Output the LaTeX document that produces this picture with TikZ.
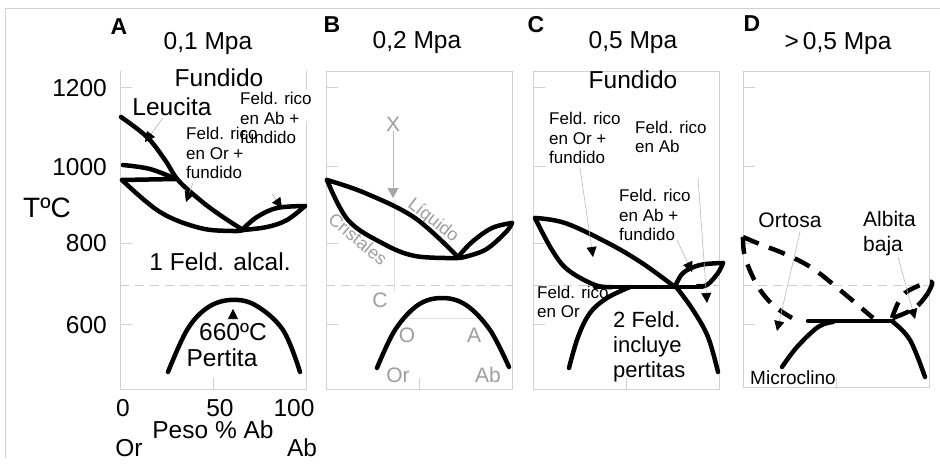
\documentclass[tikz,border=0pt]{standalone}
\usepackage{fontspec}
\setmainfont{Liberation Sans}
\usetikzlibrary{arrows.meta}
\tikzset{
  curve/.style={line width=4.5pt, line cap=round, line join=round},
  dcurve/.style={line width=4.5pt, line join=round, dash pattern=on 17pt off 11pt},
  frame/.style={draw=gray!35, line width=0.8pt},
  tickln/.style={draw=gray!35, line width=0.8pt},
  dashln/.style={draw=gray!40, line width=0.8pt, dash pattern=on 9pt off 6pt},
  lead/.style={draw=gray!55, line width=0.6pt, -{Triangle[length=10pt,width=10pt,color=black]}},
  glead/.style={draw=gray!55, line width=0.6pt, -{Triangle[length=10pt,width=11pt,color=gray!70]}},
  faint/.style={draw=gray!25, line width=0.6pt},
  txtL/.style={font=\fontsize{24.5}{27}\selectfont, inner sep=0pt},
  txtT/.style={font=\fontsize{28}{30}\selectfont, inner sep=0pt},
  txtM/.style={font=\fontsize{21}{25}\selectfont, inner sep=0pt, align=left},
  txtS/.style={font=\fontsize{17}{19.5}\selectfont, inner sep=0pt, align=left},
  txtG/.style={font=\fontsize{21}{24}\selectfont, inner sep=0pt, text=gray!75},
  txtGs/.style={font=\fontsize{18}{20}\selectfont, inner sep=0pt, text=gray!75},
  panl/.style={font=\fontsize{23}{25}\selectfont\bfseries, inner sep=0pt}
}
\begin{document}
\begin{tikzpicture}[x=1pt,y=-1pt]
\useasboundingbox (0,0) rectangle (940,468);
\fill[white] (0,0) rectangle (940,468);
% outer frame
\draw[frame] (5,458) -- (5,8) -- (940,8);

% ---------- panel frames, ticks, dashed lines
\foreach \xl/\xr in {120/306, 326/512, 533/719, 743/929}{
  \draw[tickln] (\xl,87) -- ++(12,0);
  \draw[tickln] (\xl,166) -- ++(12,0);
  \draw[tickln] (\xl,243) -- ++(12,0);
  \draw[tickln] (\xl,324) -- ++(12,0);
  \draw[dashln] (\xl,285) -- (\xr,285);
  \draw[tickln] ({(\xl+\xr)/2},389) -- ++(0,-11);
}
\draw[frame] (120,71) -- (120,389) -- (306,389) -- (306,121);
\draw[frame] (306,71) -- (306,90);
\draw[frame] (326,71) rectangle (512,389);
\draw[frame] (533,71) rectangle (719,389);
\draw[frame] (743,71) rectangle (929,387);

% ---------- axis labels (panel A)
\node[txtL, anchor=east] (t1200) at (107,88) {1200};
\node[txtL, anchor=east] (t1000) at (107,167) {1000};
\node[txtL, anchor=east] (t800) at (107,243) {800};
\node[txtL, anchor=east] (t600) at (107,325) {600};
\node[txtT] (tc) at (47,208) {TºC};
\node[txtL] (x0) at (123,408) {0};
\node[txtL] (x50) at (220,408) {50};
\node[txtL] (x100) at (294,408) {100};
\node[txtL] (peso) at (213,430) {Peso \% Ab};
\node[txtL] (orA) at (129,448) {Or};
\node[txtL] (abA) at (302,448) {Ab};

% ---------- panel A
\node[panl] (pA) at (119,27) {A};
\node[txtL] (tA) at (208,43) {0,1 Mpa};
\node[txtL] (fA) at (219,78) {Fundido};
\node[txtL] (leu) at (172,107) {Leucita};
\node[txtS, anchor=west] (abfA) at (240,118) {Feld. rico\\en Ab +\\fundido};
\node[txtS, anchor=west] (orfA) at (186,153) {Feld. rico\\en Or +\\fundido};
\node[txtL] (alc) at (220,262) {1 Feld. alcal.};
\node[txtL] (t660) at (233,332) {660ºC};
\node[txtL] (pert) at (222,358) {Pertita};

\draw[curve] plot[smooth, tension=0.6] coordinates {(121,117) (147,137) (165,160) (178,180) (200,200) (220,215) (243,230)};
\draw[curve] plot[smooth, tension=0.6] coordinates {(123,165) (150,169) (176,179)};
\draw[curve] (122,180) -- (176,179);
\draw[curve] plot[smooth, tension=0.6] coordinates {(122,180) (160,212) (200,228) (233,231) (243,230)};
\draw[curve] plot[smooth, tension=0.6] coordinates {(243,229) (257,217) (277,208) (305,206)};
\draw[curve] plot[smooth, tension=0.6] coordinates {(243,230) (267,227) (287,220) (305,206)};
\draw[curve] plot[smooth, tension=0.6] coordinates {(168,372) (187,330) (207,308) (230,300) (255,305) (283,330) (300,372)};

\coordinate (lA1) at (163,118); \coordinate (lA1e) at (145,142);
\draw[lead] (lA1) -- (lA1e);
\coordinate (lA2) at (193,183); \coordinate (lA2e) at (186,202);
\draw[lead] (lA2) -- (lA2e);
\coordinate (lA3) at (272,194); \coordinate (lA3e) at (282,208);
\draw[lead] (lA3) -- (lA3e);
\coordinate (lA4) at (233,320); \coordinate (lA4e) at (233,309);
\draw[lead] (lA4) -- (lA4e);

% ---------- panel B
\node[panl] (pB) at (332,25) {B};
\node[txtL] (tB) at (417,42) {0,2 Mpa};
\node[txtG] (X) at (393,124) {X};
\coordinate (Xe) at (393,198);
\draw[glead] (X) -- (Xe);
\draw[faint] (394,200) -- (394,292);
\draw[faint] (407,318) -- (483,318);
\node[txtGs, rotate=-38] (liq) at (433,221) {Líquido};
\node[txtGs, rotate=-40] (cri) at (358,239) {Cristales};
\node[txtG] (Cg) at (380,300) {C};
\node[txtG] (Og) at (407,335) {O};
\node[txtG] (Ag) at (474,335) {A};
\node[txtG] (Org) at (398,375) {Or};
\node[txtG] (Abg) at (488,375) {Ab};

\draw[curve] plot[smooth, tension=0.6] coordinates {(327,180) (365,193) (415,218) (458,257)};
\draw[curve] plot[smooth, tension=0.6] coordinates {(327,180) (348,220) (382,243) (415,256) (458,258)};
\draw[curve] plot[smooth, tension=0.6] coordinates {(458,257) (472,242) (492,228) (512,223)};
\draw[curve] plot[smooth, tension=0.6] coordinates {(460,258) (485,250) (506,232) (512,223)};
\draw[curve] plot[smooth, tension=0.6] coordinates {(377,368) (395,330) (418,305) (442,298) (466,305) (490,330) (509,367)};

% ---------- panel C
\node[panl] (pC) at (536,25) {C};
\node[txtL] (tC) at (633,42) {0,5 Mpa};
\node[txtL] (fC) at (633,80) {Fundido};
\node[txtS, anchor=west] (orfC) at (549,138) {Feld. rico\\en Or +\\fundido};
\node[txtS, anchor=west] (abC) at (635,137) {Feld. rico\\en Ab};
\node[txtS, anchor=west] (abfC) at (619,215) {Feld. rico\\en Ab +\\fundido};
\node[txtS, anchor=west] (orC) at (537,302) {Feld. rico\\en Or};
\node[txtM, anchor=west, font=\fontsize{22}{25}\selectfont] (twoC) at (613,347) {2 Feld.\\incluye\\pertitas};

\draw[curve] plot[smooth, tension=0.6] coordinates {(535,218) (565,223) (608,243) (642,263) (675,287)};
\draw[curve] plot[smooth, tension=0.6] coordinates {(535,218) (552,250) (568,270) (595,285) (612,287)};
\draw[curve] (595,287) -- (702,287);
\draw[curve] plot[smooth, tension=0.6] coordinates {(675,287) (683,273) (700,265) (723,263)};
\draw[curve] plot[smooth, tension=0.6] coordinates {(698,286) (707,285) (718,273) (723,263)};
\draw[curve] plot[smooth, tension=0.6] coordinates {(569,368) (578,337) (590,313) (607,298) (630,287)};
\draw[curve] plot[smooth, tension=0.6] coordinates {(677,288) (693,310) (708,337) (718,372)};

\coordinate (lC1) at (580,168); \coordinate (lC1e) at (593,257);
\draw[lead] (lC1) -- (lC1e);
\coordinate (lC2) at (698,178); \coordinate (lC2e) at (707,303);
\draw[lead] (lC2) -- (lC2e);
\coordinate (lC3) at (677,240); \coordinate (lC3e) at (692,272);
\draw[lead] (lC3) -- (lC3e);

% ---------- panel D
\node[panl] (pD) at (752,24) {D};
\node[txtL] (tD) at (838,43) {>\,0,5 Mpa};
\node[txtM] (ort) at (790,220) {Ortosa};
\node[txtM, anchor=west] (alb) at (863,234) {Albita\\baja};
\node[font=\fontsize{19}{22}\selectfont, inner sep=0pt, anchor=west] (mic) at (750,378) {Microclino};

\draw[dcurve] plot[smooth, tension=0.6] coordinates {(743,237) (762,245) (785,254) (812,268) (840,290) (873,318)};
\draw[dcurve] plot[smooth, tension=0.6] coordinates {(743,237) (745,257) (757,285) (773,305) (792,318)};
\draw[dcurve] plot[smooth, tension=0.6] coordinates {(892,318) (902,296) (918,286) (932,282) (928,293)};
\draw[dcurve] plot[smooth, tension=0.6] coordinates {(893,318) (915,308) (928,293)};
\draw[curve] (808,321) -- (893,321);
\draw[curve] plot[smooth, tension=0.6] coordinates {(782,367) (797,347) (818,327) (833,322)};
\draw[curve] plot[smooth, tension=0.6] coordinates {(893,322) (910,340) (925,377)};

\coordinate (lD1) at (800,232); \coordinate (lD1e) at (777,331);
\draw[lead] (lD1) -- (lD1e);
\coordinate (lD2) at (898,257); \coordinate (lD2e) at (915,319);
\draw[lead] (lD2) -- (lD2e);
\end{tikzpicture}
\end{document}
